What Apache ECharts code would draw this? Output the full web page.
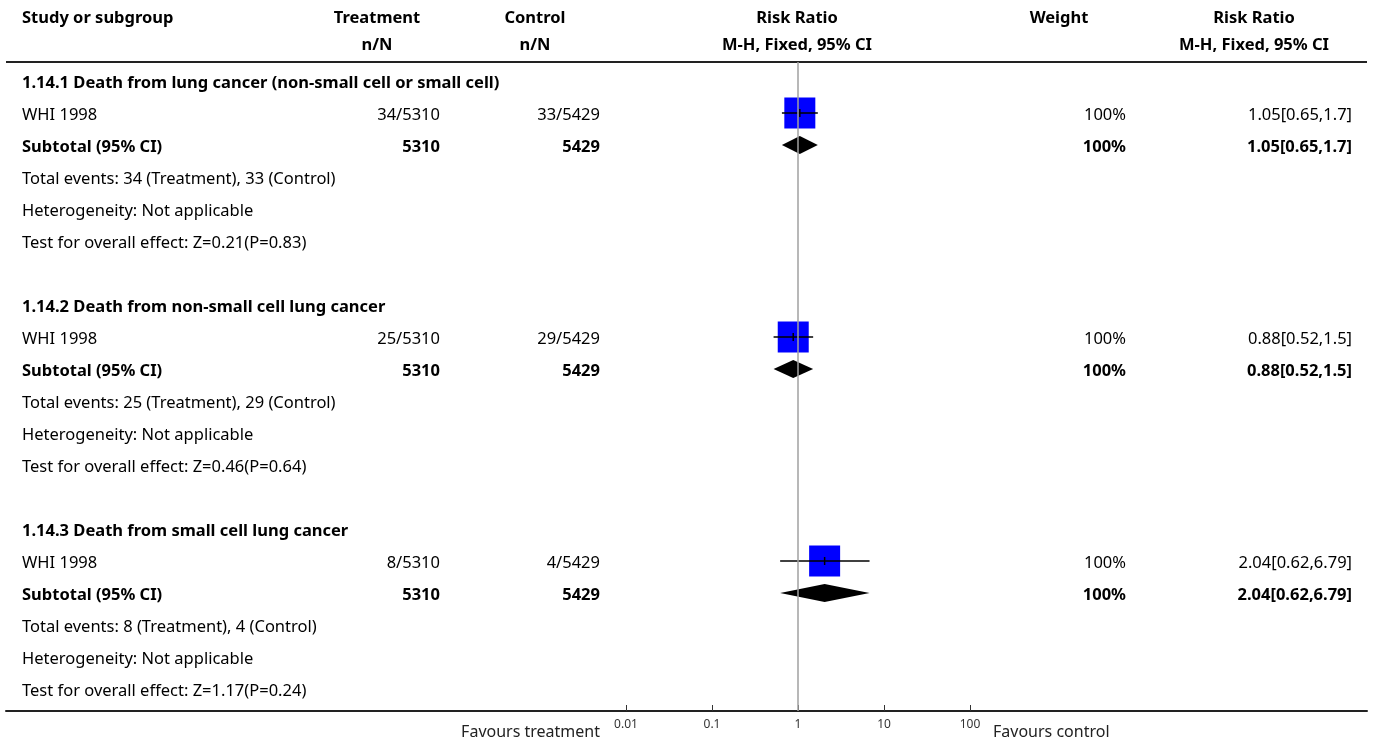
<!DOCTYPE html>
<html>
<head>
<meta charset="utf-8">
<script src="https://cdn.jsdelivr.net/npm/echarts@6/dist/echarts.min.js"></script>
<style>
  html, body { margin: 0; padding: 0; background: #fff; }
  #chart { width: 1375px; height: 740px; }
</style>
</head>
<body>
<div id="chart"></div>
<script>
// ---- Analysis data ----
const subgroupTitles = [
  '1.14.1 Death from lung cancer (non-small cell or small cell)',
  '1.14.2 Death from non-small cell lung cancer',
  '1.14.3 Death from small cell lung cancer'
];
const studyNames   = ['WHI 1998', 'WHI 1998', 'WHI 1998'];
const treatEvents  = [34, 25, 8];
const treatTotals  = [5310, 5310, 5310];
const ctrlEvents   = [33, 29, 4];
const ctrlTotals   = [5429, 5429, 5429];
const riskRatios   = [1.05, 0.88, 2.04];
const ciLower      = [0.65, 0.52, 0.62];
const ciUpper      = [1.7, 1.5, 6.79];
const weights      = [100, 100, 100];
const zValues      = ['0.21', '0.46', '1.17'];
const pValues      = ['0.83', '0.64', '0.24'];
const heterogeneity = ['Not applicable', 'Not applicable', 'Not applicable'];

const headerTop = ['Study or subgroup', 'Treatment', 'Control', 'Risk Ratio', 'Weight', 'Risk Ratio'];
const headerSub = ['', 'n/N', 'n/N', 'M-H, Fixed, 95% CI', '', 'M-H, Fixed, 95% CI'];
const axisTicks = [0.01, 0.1, 1, 10, 100];
const favourLabels = ['Favours treatment', 'Favours control'];

// ---- Layout ----
const FONT = '"Noto Sans", "Open Sans", sans-serif';
const FONT_SIZE = 16.5;
const ROW_H = 32;
const TABLE_LEFT = 6, TABLE_RIGHT = 1367;
const TABLE_TOP = 62, TABLE_BOTTOM = 711;
const FIRST_ROW_Y = 81;
const TEXT_DY = 2;          // text sits slightly below the mark centre line
const ROWS_PER_GROUP = 7;
const ROW_MIN = -(FIRST_ROW_Y - TABLE_TOP) / ROW_H;
const ROW_MAX = (TABLE_BOTTOM - FIRST_ROW_Y) / ROW_H;
const PLOT_LEFT = 626, PLOT_WIDTH = 344;
const SQUARE_FULL = 31;     // side of the weight square at 100 %
const DIAMOND_HALF_H = 9;

// column anchors (px) and header centres
const COL = { study: 22, treat: 440, ctrl: 600, weight: 1126, rr: 1352 };
const HEAD_X = [22, 377, 535, 797, 1059, 1254];
const HEAD_Y = [18, 45];

// ---- Table cells ----
const cells = [];
function cell(x, row, text, align, bold) { cells.push({ x, row, text, align, bold }); }
subgroupTitles.forEach((title, g) => {
  const r = g * ROWS_PER_GROUP;
  const rrText = riskRatios[g] + '[' + ciLower[g] + ',' + ciUpper[g] + ']';
  cell(COL.study, r, title, 'left', true);
  cell(COL.study, r + 1, studyNames[g], 'left', false);
  cell(COL.treat, r + 1, treatEvents[g] + '/' + treatTotals[g], 'right', false);
  cell(COL.ctrl, r + 1, ctrlEvents[g] + '/' + ctrlTotals[g], 'right', false);
  cell(COL.weight, r + 1, weights[g] + '%', 'right', false);
  cell(COL.rr, r + 1, rrText, 'right', false);
  cell(COL.study, r + 2, 'Subtotal (95% CI)', 'left', true);
  cell(COL.treat, r + 2, String(treatTotals[g]), 'right', true);
  cell(COL.ctrl, r + 2, String(ctrlTotals[g]), 'right', true);
  cell(COL.weight, r + 2, weights[g] + '%', 'right', true);
  cell(COL.rr, r + 2, rrText, 'right', true);
  cell(COL.study, r + 3, 'Total events: ' + treatEvents[g] + ' (Treatment), ' + ctrlEvents[g] + ' (Control)', 'left', false);
  cell(COL.study, r + 4, 'Heterogeneity: ' + heterogeneity[g], 'left', false);
  cell(COL.study, r + 5, 'Test for overall effect: Z=' + zValues[g] + '(P=' + pValues[g] + ')', 'left', false);
});

// ---- Forest marks: [rr, lower, upper, row, weight, kind(0 study, 1 subtotal)] ----
const forestData = [];
subgroupTitles.forEach((t, g) => {
  const r = g * ROWS_PER_GROUP;
  forestData.push([riskRatios[g], ciLower[g], ciUpper[g], r + 1, weights[g], 0]);
  forestData.push([riskRatios[g], ciLower[g], ciUpper[g], r + 2, weights[g], 1]);
});

const chart = echarts.init(document.getElementById('chart'), null, { renderer: 'canvas' });

const rowAxis = (gridIndex) => ({
  type: 'value', gridIndex, min: ROW_MIN, max: ROW_MAX, inverse: true, show: false
});

const headerGraphics = [];
headerTop.forEach((t, i) => {
  headerGraphics.push({
    type: 'text', x: HEAD_X[i], y: HEAD_Y[0],
    style: { text: t, font: 'bold ' + FONT_SIZE + 'px ' + FONT, fill: '#000',
             textAlign: i === 0 ? 'left' : 'center', textVerticalAlign: 'middle' }
  });
  if (headerSub[i]) headerGraphics.push({
    type: 'text', x: HEAD_X[i], y: HEAD_Y[1],
    style: { text: headerSub[i], font: 'bold ' + FONT_SIZE + 'px ' + FONT, fill: '#000',
             textAlign: 'center', textVerticalAlign: 'middle' }
  });
});

chart.setOption({
  animation: false,
  backgroundColor: '#fff',
  grid: [
    { left: TABLE_LEFT, right: 1375 - TABLE_RIGHT, top: TABLE_TOP, height: TABLE_BOTTOM - TABLE_TOP },
    { left: PLOT_LEFT, width: PLOT_WIDTH, top: TABLE_TOP, height: TABLE_BOTTOM - TABLE_TOP }
  ],
  xAxis: [
    { type: 'value', gridIndex: 0, min: TABLE_LEFT, max: TABLE_RIGHT, position: 'bottom',
      axisLine: { show: true, onZero: false, lineStyle: { color: '#222', width: 2 } },
      axisTick: { show: false }, axisLabel: { show: false }, splitLine: { show: false } },
    { type: 'log', gridIndex: 1, logBase: 10, position: 'bottom',
      min: axisTicks[0], max: axisTicks[axisTicks.length - 1],
      axisLine: { show: true, onZero: false, lineStyle: { color: '#222', width: 2 } },
      axisTick: { show: true, inside: true, length: 6, lineStyle: { color: '#333', width: 1 } },
      axisLabel: { color: '#333', fontSize: 12, fontFamily: FONT, margin: 8,
                   formatter: v => String(+v.toPrecision(3)) },
      splitLine: { show: false } }
  ],
  yAxis: [rowAxis(0), rowAxis(1)],
  graphic: headerGraphics.concat([
    { type: 'line', shape: { x1: TABLE_LEFT, y1: TABLE_TOP, x2: TABLE_RIGHT, y2: TABLE_TOP },
      style: { stroke: '#222', lineWidth: 2 } },
    { type: 'text', x: 600, y: 732,
      style: { text: favourLabels[0], font: '16px ' + FONT, fill: '#222', textAlign: 'right', textVerticalAlign: 'middle' } },
    { type: 'text', x: 993, y: 732,
      style: { text: favourLabels[1], font: '16px ' + FONT, fill: '#222', textAlign: 'left', textVerticalAlign: 'middle' } }
  ]),
  series: [
    {
      type: 'custom', name: 'table', xAxisIndex: 0, yAxisIndex: 0,
      clip: false, silent: true,
      data: cells.map(c => [c.x, c.row]),
      renderItem: (params, api) => {
        const c = cells[params.dataIndex];
        const p = api.coord([api.value(0), api.value(1)]);
        return {
          type: 'text', x: p[0], y: p[1] + TEXT_DY,
          style: { text: c.text, font: (c.bold ? 'bold ' : '') + FONT_SIZE + 'px ' + FONT,
                   fill: '#000', textAlign: c.align, textVerticalAlign: 'middle' }
        };
      }
    },
    {
      type: 'custom', name: 'forest', xAxisIndex: 1, yAxisIndex: 1,
      clip: false, silent: true,
      data: forestData,
      encode: { x: [0, 1, 2], y: 3 },
      renderItem: (params, api) => {
        const row = api.value(3);
        const c = api.coord([api.value(0), row]);
        const lo = api.coord([api.value(1), row])[0];
        const hi = api.coord([api.value(2), row])[0];
        if (api.value(5) === 1) {
          return {
            type: 'polygon',
            shape: { points: [[lo, c[1]], [c[0], c[1] - DIAMOND_HALF_H], [hi, c[1]], [c[0], c[1] + DIAMOND_HALF_H]] },
            style: { fill: '#000' }
          };
        }
        const half = SQUARE_FULL * api.value(4) / 100 / 2;
        return {
          type: 'group',
          children: [
            { type: 'rect', shape: { x: c[0] - half, y: c[1] - half, width: half * 2, height: half * 2 },
              style: { fill: '#0000ff' } },
            { type: 'line', shape: { x1: lo, y1: c[1], x2: hi, y2: c[1] },
              style: { stroke: '#000', lineWidth: 1.5 } },
            { type: 'line', shape: { x1: c[0], y1: c[1] - 4, x2: c[0], y2: c[1] + 4 },
              style: { stroke: '#000', lineWidth: 1.5 } }
          ]
        };
      },
      markLine: {
        silent: true, symbol: 'none', label: { show: false },
        lineStyle: { color: '#a0a0a0', width: 1.5, type: 'solid' },
        data: [{ xAxis: 1 }]
      },
      z: 3
    }
  ]
});
</script>
</body>
</html>
